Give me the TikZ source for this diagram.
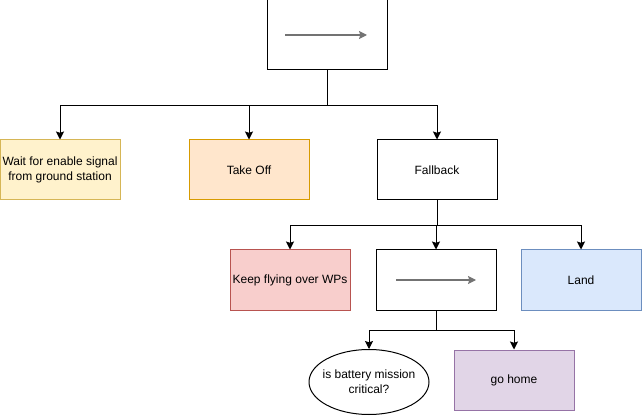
\documentclass[tikz,border=0pt]{standalone}
\usepackage{fontspec}
\setmainfont{Liberation Sans}
\usetikzlibrary{positioning,arrows.meta,shapes.geometric}
\tikzset{>={Stealth[width=6pt,length=6pt,inset=1pt]}}
\definecolor{waitfill}{HTML}{FFF2CC}\definecolor{waitdraw}{HTML}{D6B656}
\definecolor{takefill}{HTML}{FFE6CC}\definecolor{takedraw}{HTML}{D79B00}
\definecolor{keepfill}{HTML}{F8CECC}\definecolor{keepdraw}{HTML}{B85450}
\definecolor{landfill}{HTML}{DAE8FC}\definecolor{landdraw}{HTML}{6C8EBF}
\definecolor{homefill}{HTML}{E1D5E7}\definecolor{homedraw}{HTML}{9673A6}

\begin{document}
\begin{tikzpicture}[x=0.75pt,y=-0.75pt,font=\fontsize{9}{11}\selectfont,
    box/.style={draw,line width=0.75pt,minimum width=90pt,minimum height=45pt,align=center,inner sep=1pt},
    seqbox/.style={box,minimum height=52.5pt},
    cond/.style={draw,ellipse,line width=0.75pt,minimum width=90pt,minimum height=48.75pt,align=center,inner xsep=-4pt,inner ysep=0pt},
    link/.style={->,line width=0.75pt},
    seqarrow/.style={->,line width=0.9pt,draw=black!55}]
    \useasboundingbox (0,0) rectangle (643,417);
    \node (seq) [seqbox] at (327,35) {};
    \node (wait) [box,fill=waitfill,draw=waitdraw] at (60,170) {Wait for enable signal\\from ground station};
    \node (takeoff) [box,fill=takefill,draw=takedraw] at (249,170) {Take Off};
    \node (fallback) [box] at (437,170) {Fallback};
    \node (keep) [box,fill=keepfill,draw=keepdraw] at (290,280) {Keep flying over WPs};
    \node (seqb) [box] at (436,280) {};
    \node (land) [box,fill=landfill,draw=landdraw] at (581,280) {Land};
    \node (battery) [cond] at (369,382) {is battery mission\\critical?};
    \node (home) [box,fill=homefill,draw=homedraw] at (514,380) {go home};

    \draw[seqarrow] ([xshift=-31.5pt]seq.center) -- ([xshift=30pt]seq.center);
    \draw[seqarrow] ([xshift=-30pt]seqb.center) -- ([xshift=30pt]seqb.center);

    \draw[link] (seq.south) -- ++(0,35) -| (wait.north);
    \draw[link] (seq.south) -- ++(0,35) -| (takeoff.north);
    \draw[link] (seq.south) -- ++(0,35) -| (fallback.north);
    \draw[link] (fallback.south) -- ++(0,25) -| (keep.north);
    \draw[link] (fallback.south) -- ++(0,25) -| (seqb.north);
    \draw[link] (fallback.south) -- ++(0,25) -| (land.north);
    \draw[link] (seqb.south) -- ++(0,20) -| (battery.north);
    \draw[link] (seqb.south) -- ++(0,20) -| (home.north);
\end{tikzpicture}
\end{document}
